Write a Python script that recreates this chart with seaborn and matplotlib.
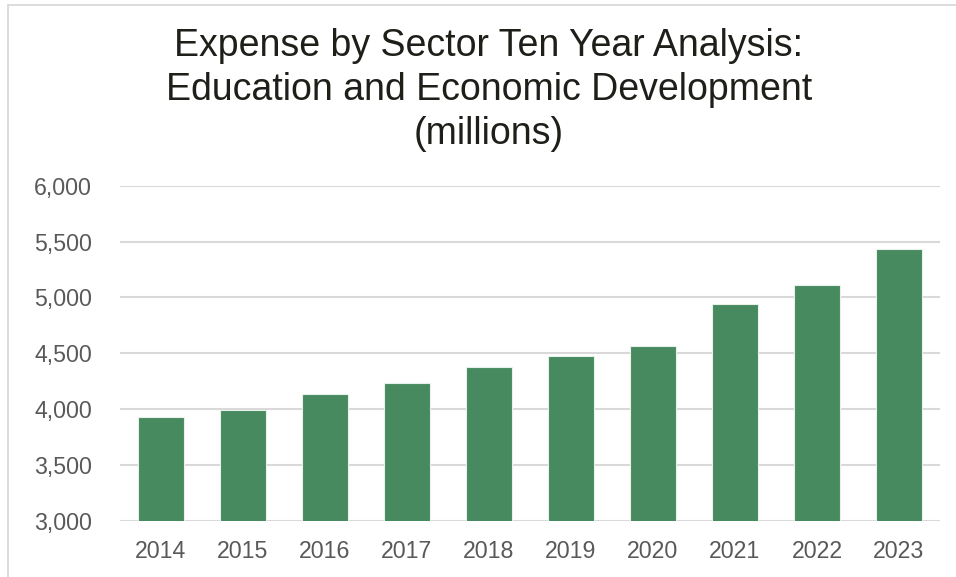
import matplotlib
matplotlib.use("Agg")
import matplotlib.pyplot as plt
import pandas as pd
import seaborn as sns
from matplotlib.patches import Rectangle
from matplotlib.ticker import FuncFormatter, MultipleLocator

YEARS = ["2014", "2015", "2016", "2017", "2018", "2019", "2020", "2021", "2022", "2023"]
EXPENSE = [3928, 3993, 4134, 4235, 4378, 4476, 4568, 4941, 5114, 5436]
TITLE = "Expense by Sector Ten Year Analysis:\nEducation and Economic Development\n(millions)"

BAR_COLOR = "#478A5F"
GRID_COLOR = "#D9D9D9"
TEXT_COLOR = "#595959"

W, H = 956, 577

sns.set_theme(style="white")
plt.rcParams["font.family"] = ["Liberation Sans", "DejaVu Sans"]

df = pd.DataFrame({"year": YEARS, "expense": EXPENSE})

fig = plt.figure(figsize=(W / 100, H / 100), dpi=100)
ax = fig.add_axes([120 / W, 1 - 521 / H, 820 / W, 335.3 / H])

sns.barplot(data=df, x="year", y="expense", color=BAR_COLOR, saturation=1,
            width=0.555, edgecolor="#E8F0EA", linewidth=0.8, ax=ax, zorder=3)

ax.set_ylim(3000, 6000)
ax.set_xlim(-0.5, len(YEARS) - 0.5)
ax.yaxis.set_major_locator(MultipleLocator(500))
ax.yaxis.set_major_formatter(FuncFormatter(lambda v, _: f"{v:,.0f}"))
ax.grid(axis="y", color=GRID_COLOR, linewidth=1.5, zorder=0)
ax.set_axisbelow(True)
for side in ax.spines.values():
    side.set_visible(False)
ax.set_xlabel("")
ax.set_ylabel("")
ax.tick_params(axis="y", length=0, pad=20, labelsize=16.7, labelcolor=TEXT_COLOR)
ax.tick_params(axis="x", length=0, pad=14, labelsize=16.7, labelcolor=TEXT_COLOR)

fig.text(489 / W, 1 - 28 / H, TITLE, ha="center", va="top", fontsize=27,
         color="#1F1F1A", linespacing=1.29)

fig.patches.append(Rectangle((8 / W, -0.1), 1.2, 1 - 4.5 / H + 0.1, transform=fig.transFigure,
                             fill=False, edgecolor=GRID_COLOR, linewidth=1.3))

fig.savefig("out.png", dpi=100)
